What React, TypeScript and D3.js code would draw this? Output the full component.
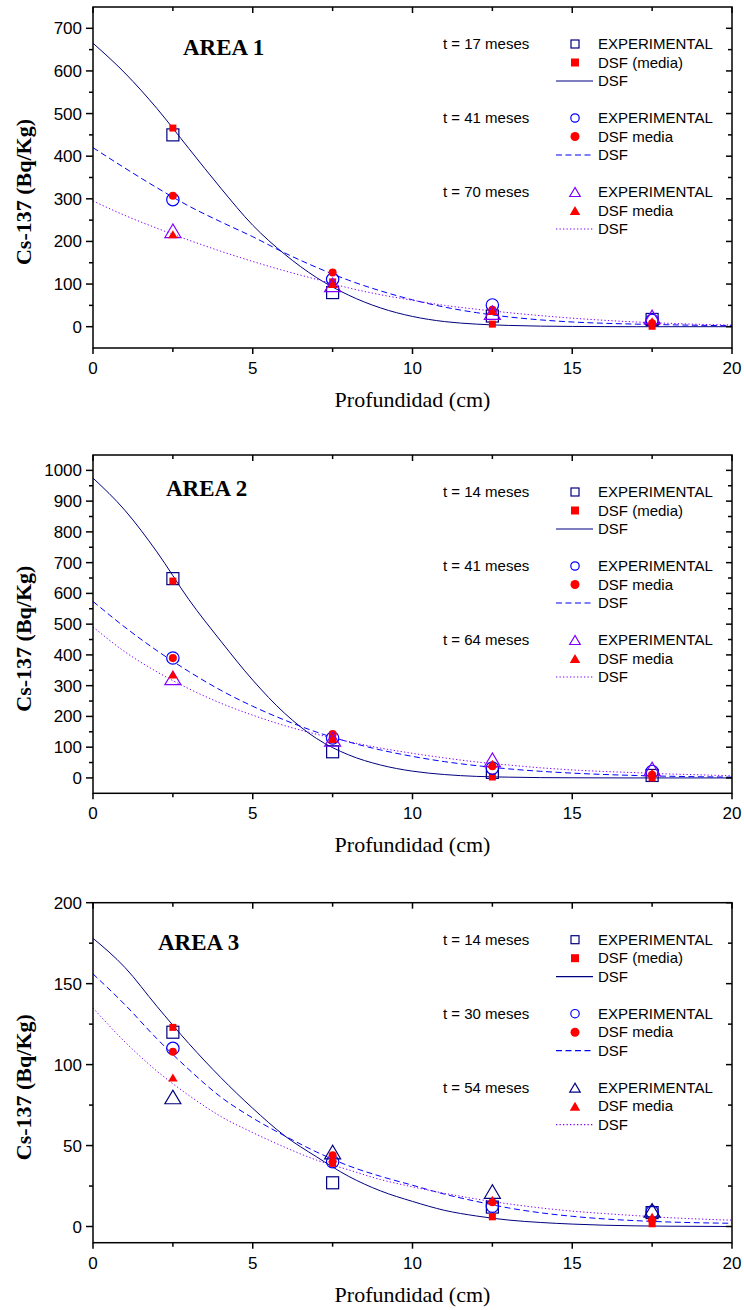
import React from 'react';
import * as d3 from 'd3';

// ---------- data ----------
const depths = [2.5, 7.5, 12.5, 17.5];
const fitDepths = [0, 1, 2, 3, 4, 5, 6, 7, 8, 9, 10, 11, 12, 13, 14, 15, 16, 17, 18, 19, 20];
const xTicks = [0, 5, 10, 15, 20];
const xMinorTicks = [2.5, 7.5, 12.5, 17.5];

// AREA 1
const a1Exp17 = [450, 80, 25, 17];
const a1Dsf17 = [466, 105, 6, 1];
const a1Exp41 = [298, 111, 51, 15];
const a1Dsf41 = [307, 127, 40, 8];
const a1Exp70 = [225, 98, 33, 23];
const a1Dsf70 = [217, 100, 37, 13];
const a1Fit17 = [665, 595, 512, 418, 325, 238, 170, 115, 74, 44, 24, 12, 6, 3, 1.3, 0.6, 0.2, 0, 0, 0, 0];
const a1Fit41 = [420, 372, 326, 283, 246, 211, 173, 139, 109, 84, 63, 46, 33, 23, 16, 11, 8, 6, 4.5, 3.2, 2.3];
const a1Fit70 = [295, 261, 231, 203, 177, 153, 131, 111, 91, 75, 62, 50, 41, 33, 26, 20, 15, 11, 8, 5.5, 4];
const a1YTicks = [0, 100, 200, 300, 400, 500, 600, 700];
const a1YMinor = [50, 150, 250, 350, 450, 550, 650];

// AREA 2
const a2Exp14 = [648, 85, 18, 8];
const a2Dsf14 = [640, 125, 3, 0];
const a2Exp41 = [390, 130, 32, 21];
const a2Dsf41 = [390, 143, 38, 10];
const a2Exp64 = [325, 125, 59, 29];
const a2Dsf64 = [336, 128, 46, 16];
const a2Fit14 = [975, 870, 735, 580, 445, 318, 210, 128, 75, 42, 22, 11, 5, 2.5, 1, 0.5, 0.2, 0, 0, 0, 0];
const a2Fit41 = [574, 490, 414, 346, 285, 233, 188, 149, 117, 91, 70, 53, 40, 29.5, 21.6, 15.6, 11.2, 7.9, 5.5, 3.8, 2.6];
const a2Fit64 = [491, 410, 345, 290, 243, 204, 170, 142, 118, 97, 80, 65, 52, 42, 33, 26, 21, 17, 13, 10, 7];
const a2YTicks = [0, 100, 200, 300, 400, 500, 600, 700, 800, 900, 1000];
const a2YMinor = [50, 150, 250, 350, 450, 550, 650, 750, 850, 950];

// AREA 3
const a3Exp14 = [120, 27, 12, 8.6];
const a3Dsf14 = [123, 39, 6, 1.7];
const a3Exp30 = [110, 40, 12.5, 9];
const a3Dsf30 = [108, 44, 15, 4];
const a3Exp54 = [80, 46, 21.6, 10];
const a3Dsf54 = [92, 42, 16.5, 6];
const a3Fit14 = [178, 160, 136, 113, 92, 73, 56, 43, 31, 22, 15.5, 10, 6.5, 4, 2.5, 1.5, 0.8, 0.4, 0.2, 0.1, 0];
const a3Fit30 = [156, 137, 116, 97, 80, 67, 56, 46, 37.5, 31, 25.5, 20, 15.5, 11.5, 8.5, 6.3, 4.7, 3.6, 2.8, 2.3, 2];
const a3Fit54 = [135, 114, 96, 81, 68, 58, 49, 41, 35, 29, 24.5, 20.5, 17, 14, 11.5, 9.5, 8, 6.7, 5.5, 4.6, 3.9];
const a3YTicks = [0, 50, 100, 150, 200];
const a3YMinor = [25, 75, 125, 175];

// ---------- styles ----------
const NAVY = '#000080';
const BLUE = '#0000ff';
const PURPLE = '#8000ff';
const RED = '#ff0000';
const SANS = "Arial, 'Liberation Sans', Helvetica, sans-serif";
const SERIF = "'Times New Roman', 'Liberation Serif', Times, serif";

const LEFT = 93;
const RIGHT = 732;

type Shape = 'square' | 'circle' | 'triangle';

function Marker({ shape, x, y, filled, color, legend }: { shape: Shape; x: number; y: number; filled: boolean; color: string; legend?: boolean }) {
  const sw = 1.2;
  if (shape === 'square') {
    const s = filled ? (legend ? 8 : 7) : legend ? 8 : 12;
    return filled ? (
      <rect x={x - s / 2} y={y - s / 2} width={s} height={s} fill={color} />
    ) : (
      <rect x={x - s / 2} y={y - s / 2} width={s} height={s} fill="none" stroke={color} strokeWidth={sw} />
    );
  }
  if (shape === 'circle') {
    const r = filled ? (legend ? 4.5 : 4) : legend ? 4.2 : 6.2;
    return filled ? <circle cx={x} cy={y} r={r} fill={color} /> : <circle cx={x} cy={y} r={r} fill="none" stroke={color} strokeWidth={sw} />;
  }
  const w = filled ? (legend ? 10.5 : 9.5) : legend ? 10.5 : 16;
  const h = filled ? (legend ? 9 : 8) : legend ? 9 : 13.5;
  const pts = `${x},${y - h / 2} ${x - w / 2},${y + h / 2} ${x + w / 2},${y + h / 2}`;
  return filled ? <polygon points={pts} fill={color} /> : <polygon points={pts} fill="none" stroke={color} strokeWidth={sw} strokeLinejoin="miter" />;
}

interface Group {
  label: string;
  shape: Shape;
  expColor: string;
  exp: number[];
  dsf: number[];
  dsfLabel: string;
  fit: number[];
  lineColor: string;
  dash: string | undefined;
}

interface PanelProps {
  id: string;
  top: number;
  bottom: number;
  yDomain: [number, number];
  yTicks: number[];
  yMinor: number[];
  title: string;
  titleX: number;
  titleY: number;
  groups: Group[];
}

function Panel({ id, top, bottom, yDomain, yTicks, yMinor, title, titleX, titleY, groups }: PanelProps) {
  const x = d3.scaleLinear().domain([0, 20]).range([LEFT, RIGHT]);
  const y = d3.scaleLinear().domain(yDomain).range([bottom, top]);
  const line = d3
    .line<[number, number]>()
    .x((d) => x(d[0]))
    .y((d) => y(d[1]))
    .curve(d3.curveMonotoneX);
  const cy = (top + bottom) / 2 + 14.5;

  return (
    <g>
      <defs>
        <clipPath id={`clip-${id}`}>
          <rect x={LEFT} y={top} width={RIGHT - LEFT} height={bottom - top} />
        </clipPath>
      </defs>
      {/* curves */}
      <g clipPath={`url(#clip-${id})`}>
        {groups.map((g, i) => (
          <path
            key={i}
            d={line(fitDepths.map((d, k) => [d, g.fit[k]] as [number, number])) || ''}
            fill="none"
            stroke={g.lineColor}
            strokeWidth={1}
            strokeDasharray={g.dash}
          />
        ))}
      </g>
      {/* markers */}
      {groups.map((g, i) => (
        <g key={i}>
          {depths.map((d, k) => (
            <Marker key={'e' + k} shape={g.shape} x={x(d)} y={y(g.exp[k])} filled={false} color={g.expColor} />
          ))}
          {depths.map((d, k) => (
            <Marker key={'d' + k} shape={g.shape} x={x(d)} y={y(g.dsf[k])} filled={true} color={RED} />
          ))}
        </g>
      ))}
      {/* frame */}
      <rect x={LEFT} y={top} width={RIGHT - LEFT} height={bottom - top} fill="none" stroke="#000" strokeWidth={1.5} />
      {/* x ticks */}
      {xTicks.map((t) => (
        <g key={'xt' + t}>
          <line x1={x(t)} x2={x(t)} y1={bottom} y2={bottom + 6} stroke="#000" strokeWidth={1.5} />
          <line x1={x(t)} x2={x(t)} y1={top} y2={top + 6} stroke="#000" strokeWidth={1.5} />
          <text x={x(t)} y={bottom + 26} textAnchor="middle" fontFamily={SANS} fontSize={17} fill="#000">
            {t}
          </text>
        </g>
      ))}
      {xMinorTicks.map((t) => (
        <g key={'xm' + t}>
          <line x1={x(t)} x2={x(t)} y1={bottom} y2={bottom + 4} stroke="#000" strokeWidth={1.5} />
          <line x1={x(t)} x2={x(t)} y1={top} y2={top + 4} stroke="#000" strokeWidth={1.5} />
        </g>
      ))}
      {/* y ticks */}
      {yTicks.map((t) => (
        <g key={'yt' + t}>
          <line x1={LEFT - 7} x2={LEFT} y1={y(t)} y2={y(t)} stroke="#000" strokeWidth={1.5} />
          <line x1={RIGHT - 6} x2={RIGHT} y1={y(t)} y2={y(t)} stroke="#000" strokeWidth={1.5} />
          <text x={LEFT - 11} y={y(t) + 6} textAnchor="end" fontFamily={SANS} fontSize={17} fill="#000">
            {t}
          </text>
        </g>
      ))}
      {yMinor.map((t) => (
        <g key={'ym' + t}>
          <line x1={LEFT - 4} x2={LEFT} y1={y(t)} y2={y(t)} stroke="#000" strokeWidth={1.5} />
          <line x1={RIGHT - 4} x2={RIGHT} y1={y(t)} y2={y(t)} stroke="#000" strokeWidth={1.5} />
        </g>
      ))}
      {/* axis titles */}
      <text x={(LEFT + RIGHT) / 2} y={bottom + 59} textAnchor="middle" fontFamily={SERIF} fontSize={22} fill="#000">
        Profundidad (cm)
      </text>
      <text
        transform={`translate(31, ${cy}) rotate(-90)`}
        textAnchor="middle"
        fontFamily={SERIF}
        fontWeight="bold"
        fontSize={22}
        fill="#000"
      >
        Cs-137 (Bq/Kg)
      </text>
      <text x={titleX} y={titleY} fontFamily={SERIF} fontWeight="bold" fontSize={23} fill="#000">
        {title}
      </text>
      {/* legend */}
      {groups.map((g, i) => {
        const by = top + 37 + i * 74;
        return (
          <g key={'lg' + i} fontFamily={SANS} fontSize={15} fill="#000">
            <text x={443} y={by + 5}>
              {g.label}
            </text>
            <Marker shape={g.shape} x={575} y={by} filled={false} color={g.expColor} legend />
            <text x={598} y={by + 5}>
              EXPERIMENTAL
            </text>
            <Marker shape={g.shape} x={575} y={by + 18.5} filled={true} color={RED} legend />
            <text x={598} y={by + 18.5 + 5}>
              {g.dsfLabel}
            </text>
            <line x1={556} x2={593} y1={by + 37} y2={by + 37} stroke={g.lineColor} strokeWidth={1.2} strokeDasharray={g.dash} />
            <text x={598} y={by + 37 + 5}>
              DSF
            </text>
          </g>
        );
      })}
    </g>
  );
}

const DASHED = '6,3.5';
const DOTTED = '1.3,2.2';

export default function App() {
  const g1: Group[] = [
    { label: 't = 17 meses', shape: 'square', expColor: NAVY, exp: a1Exp17, dsf: a1Dsf17, dsfLabel: 'DSF (media)', fit: a1Fit17, lineColor: NAVY, dash: undefined },
    { label: 't = 41 meses', shape: 'circle', expColor: BLUE, exp: a1Exp41, dsf: a1Dsf41, dsfLabel: 'DSF media', fit: a1Fit41, lineColor: BLUE, dash: DASHED },
    { label: 't = 70 meses', shape: 'triangle', expColor: PURPLE, exp: a1Exp70, dsf: a1Dsf70, dsfLabel: 'DSF media', fit: a1Fit70, lineColor: PURPLE, dash: DOTTED },
  ];
  const g2: Group[] = [
    { label: 't = 14 meses', shape: 'square', expColor: NAVY, exp: a2Exp14, dsf: a2Dsf14, dsfLabel: 'DSF (media)', fit: a2Fit14, lineColor: NAVY, dash: undefined },
    { label: 't = 41 meses', shape: 'circle', expColor: BLUE, exp: a2Exp41, dsf: a2Dsf41, dsfLabel: 'DSF media', fit: a2Fit41, lineColor: BLUE, dash: DASHED },
    { label: 't = 64 meses', shape: 'triangle', expColor: PURPLE, exp: a2Exp64, dsf: a2Dsf64, dsfLabel: 'DSF media', fit: a2Fit64, lineColor: PURPLE, dash: DOTTED },
  ];
  const g3: Group[] = [
    { label: 't = 14 meses', shape: 'square', expColor: NAVY, exp: a3Exp14, dsf: a3Dsf14, dsfLabel: 'DSF (media)', fit: a3Fit14, lineColor: NAVY, dash: undefined },
    { label: 't = 30 meses', shape: 'circle', expColor: BLUE, exp: a3Exp30, dsf: a3Dsf30, dsfLabel: 'DSF media', fit: a3Fit30, lineColor: BLUE, dash: DASHED },
    { label: 't = 54 meses', shape: 'triangle', expColor: NAVY, exp: a3Exp54, dsf: a3Dsf54, dsfLabel: 'DSF media', fit: a3Fit54, lineColor: PURPLE, dash: DOTTED },
  ];
  return (
    <svg
      width={744}
      height={1310}
      viewBox="0 0 744 1310"
      style={{ position: 'absolute', left: 0, top: 0, background: '#fff' }}
    >
      <rect x={0} y={0} width={744} height={1310} fill="#fff" />
      <Panel id="p1" top={7} bottom={348} yDomain={[-50, 750]} yTicks={a1YTicks} yMinor={a1YMinor} title="AREA 1" titleX={183} titleY={55} groups={g1} />
      <Panel id="p2" top={455} bottom={793.3} yDomain={[-50, 1050]} yTicks={a2YTicks} yMinor={a2YMinor} title="AREA 2" titleX={166} titleY={496} groups={g2} />
      <Panel id="p3" top={902.7} bottom={1242.7} yDomain={[-10, 200]} yTicks={a3YTicks} yMinor={a3YMinor} title="AREA 3" titleX={158} titleY={950} groups={g3} />
    </svg>
  );
}
